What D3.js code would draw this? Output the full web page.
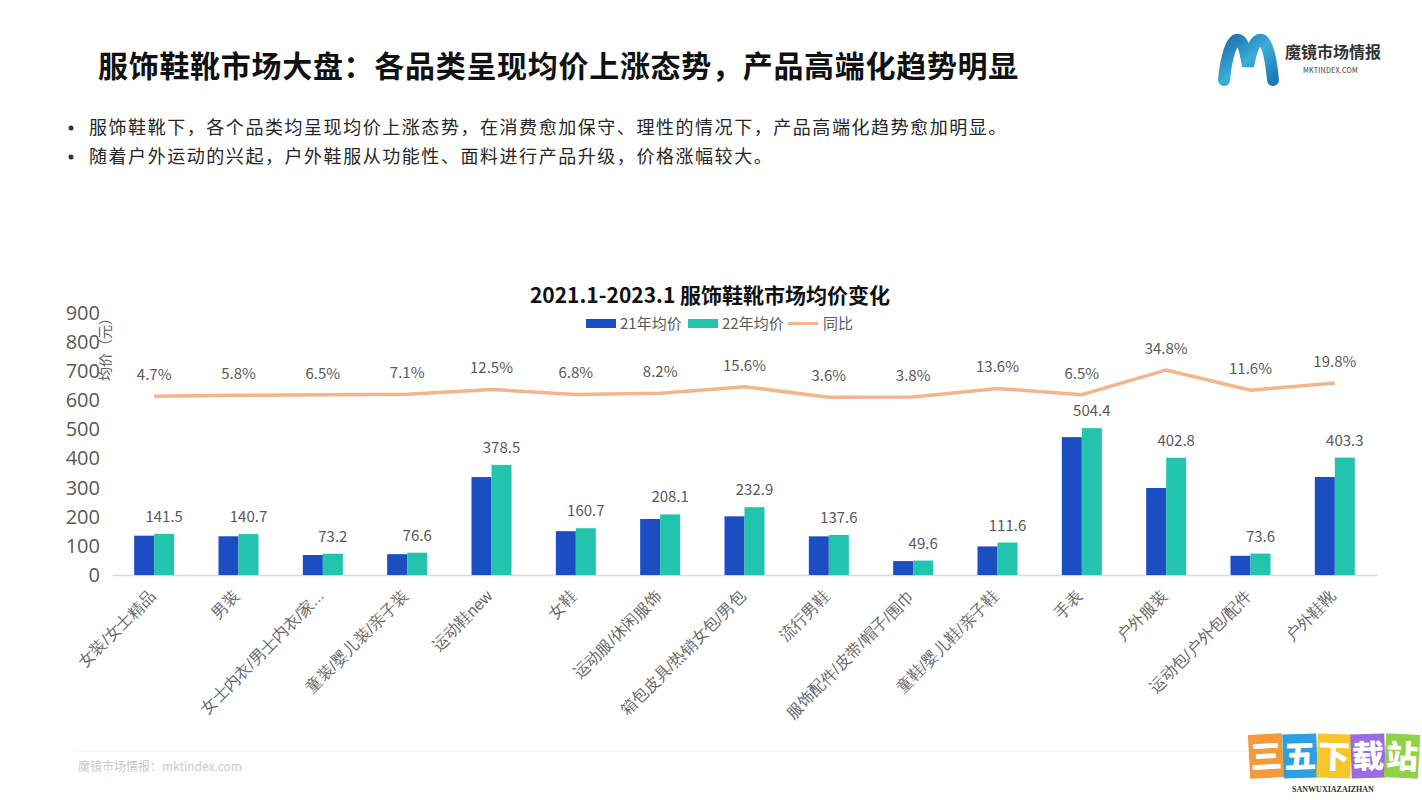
<!DOCTYPE html>
<html><head><meta charset="utf-8">
<script src="https://cdn.jsdelivr.net/npm/d3@7"></script>
<style>
html,body{margin:0;padding:0;background:#fff;}
svg{display:block;font-family:"Noto Sans CJK SC","Open Sans",sans-serif;}
</style></head>
<body>
<svg id="c" width="1422" height="800"></svg>
<script>
const categories = ["女装/女士精品","男装","女士内衣/男士内衣/家...","童装/婴儿装/亲子装","运动鞋new","女鞋","运动服/休闲服饰","箱包皮具/热销女包/男包","流行男鞋","服饰配件/皮带/帽子/围巾","童鞋/婴儿鞋/亲子鞋","手表","户外服装","运动包/户外包/配件","户外鞋靴"];
const price21 = [135.1,133.0,68.7,71.5,336.4,150.5,192.3,201.5,132.8,47.8,98.2,473.6,298.8,66.0,336.6];
const price22 = [141.5,140.7,73.2,76.6,378.5,160.7,208.1,232.9,137.6,49.6,111.6,504.4,402.8,73.6,403.3];
const yoy = [4.7,5.8,6.5,7.1,12.5,6.8,8.2,15.6,3.6,3.8,13.6,6.5,34.8,11.6,19.8];
const yTicks = [0,100,200,300,400,500,600,700,800,900];
const seriesNames = ["21年均价","22年均价","同比"];
const title = "服饰鞋靴市场大盘：各品类呈现均价上涨态势，产品高端化趋势明显";
const bullets = ["服饰鞋靴下，各个品类均呈现均价上涨态势，在消费愈加保守、理性的情况下，产品高端化趋势愈加明显。","随着户外运动的兴起，户外鞋服从功能性、面料进行产品升级，价格涨幅较大。"];
const chartTitle = "2021.1-2023.1 服饰鞋靴市场均价变化";

const C21 = "#1a4ec2", C22 = "#22c4ae", CL = "#f3b58c", GRAY = "#595959";
const svg = d3.select("#c");

// header
svg.append("text").attr("x",98).attr("y",77).attr("font-size",30).attr("font-weight",700)
  .attr("letter-spacing",0.7).attr("fill","#111").text(title);
bullets.forEach((b,i)=>{
  svg.append("circle").attr("cx",71).attr("cy",128+i*29).attr("r",2.5).attr("fill","#333");
  svg.append("text").attr("x",89).attr("y",134+i*29).attr("font-size",18).attr("letter-spacing",1.55)
    .attr("fill","#262626").text(b);
});

// logo
const defs = svg.append("defs");
const g1 = defs.append("linearGradient").attr("id","lg").attr("x1","0").attr("x2","1").attr("y1","0").attr("y2","1");
g1.append("stop").attr("offset","0").attr("stop-color","#1f6fae");
g1.append("stop").attr("offset","0.5").attr("stop-color","#3aaed8");
g1.append("stop").attr("offset","1").attr("stop-color","#1c7bb5");
svg.append("path").attr("d","M1224,80 C1226,60 1230,44 1236,40 C1244,38 1246,56 1248,66 C1250,56 1254,38 1262,40 C1268,44 1271,60 1273,80")
  .attr("fill","none").attr("stroke","url(#lg)").attr("stroke-width",12).attr("stroke-linecap","round");
svg.append("text").attr("x",1285).attr("y",58).attr("font-size",16).attr("font-weight",700).attr("fill","#333").text("魔镜市场情报");
svg.append("text").attr("x",1303).attr("y",73).attr("font-size",7).attr("fill","#333").attr("letter-spacing",0.3).text("MKTINDEX.COM");

// chart
const x = d3.scaleBand().domain(categories).range([112,1377]);
const xs = d3.scaleBand().domain(["21","22"]).range([0,40]);
const y = d3.scaleLinear().domain([0,900]).range([575,313]);
const y2 = d3.scaleLinear().domain([-200,100]).range([575,313]);
const cx = c => x(c) + x.bandwidth()/2;

svg.append("text").attr("x",710).attr("y",303).attr("text-anchor","middle").attr("font-size",21)
  .attr("font-weight",700).attr("fill","#111").text(chartTitle);

// legend
const lg = svg.append("g").attr("font-size",15).attr("fill",GRAY);
lg.append("rect").attr("x",586).attr("y",319).attr("width",30).attr("height",9).attr("fill",C21);
lg.append("text").attr("x",620).attr("y",329).text(seriesNames[0]);
lg.append("rect").attr("x",688).attr("y",319).attr("width",30).attr("height",9).attr("fill",C22);
lg.append("text").attr("x",722).attr("y",329).text(seriesNames[1]);
lg.append("line").attr("x1",788).attr("x2",818).attr("y1",323.5).attr("y2",323.5).attr("stroke",CL).attr("stroke-width",3);
lg.append("text").attr("x",823).attr("y",329).text(seriesNames[2]);

// y axis
const ya = svg.append("g").attr("transform","translate(100,0)")
  .call(d3.axisLeft(y).tickValues(yTicks).tickSize(0).tickPadding(0));
ya.select(".domain").remove();
ya.selectAll("text").attr("font-size",20).attr("fill",GRAY).attr("font-family","'Open Sans','Noto Sans CJK SC',sans-serif");
svg.append("text").attr("transform","translate(110,346) rotate(-90)").attr("text-anchor","middle")
  .attr("font-size",14).attr("fill",GRAY).text("均价（元）");

// x axis
const xa = svg.append("g").attr("transform","translate(0,575)").call(d3.axisBottom(x).tickSize(0).tickPadding(0));
xa.select(".domain").attr("stroke","#d9d9d9").attr("stroke-width",1.5);
xa.selectAll("text").attr("font-size",16).attr("fill","#666").attr("text-anchor","end")
  .attr("transform","translate(-2,18) rotate(-45)").attr("dy","0.35em");

// bars
const bars = svg.append("g");
categories.forEach((c,i)=>{
  bars.append("rect").attr("x",x(c)+x.bandwidth()/2-20+xs("21")).attr("width",xs.bandwidth())
    .attr("y",y(price21[i])).attr("height",y(0)-y(price21[i])).attr("fill",C21);
  bars.append("rect").attr("x",x(c)+x.bandwidth()/2-20+xs("22")).attr("width",xs.bandwidth())
    .attr("y",y(price22[i])).attr("height",y(0)-y(price22[i])).attr("fill",C22);
  bars.append("text").attr("x",x(c)+x.bandwidth()/2-20+xs("22")+xs.bandwidth()/2).attr("y",y(price22[i])-12)
    .attr("text-anchor","middle").attr("font-size",15).attr("fill",GRAY).text(price22[i].toFixed(1));
});

// line
const line = d3.line().x((d,i)=>cx(categories[i])).y(d=>y2(d));
svg.append("path").datum(yoy).attr("d",line).attr("fill","none").attr("stroke",CL).attr("stroke-width",3.5);
svg.append("g").selectAll("text").data(yoy).join("text")
  .attr("x",(d,i)=>cx(categories[i])).attr("y",d=>y2(d)-16)
  .attr("text-anchor","middle").attr("font-size",15).attr("fill",GRAY).text(d=>d.toFixed(1)+"%");

// footer
svg.append("line").attr("x1",75).attr("x2",1370).attr("y1",751).attr("y2",751).attr("stroke","#f2f2f2");
svg.append("text").attr("x",78).attr("y",771).attr("font-size",12).attr("fill","#c8c8c8").text("魔镜市场情报：mktindex.com");

// watermark
const wm = [["三","#f39a3c",-3],["五","#2e9fe0",-2],["下","#f6c62a",2],["载","#9b6ce0",-2],["站","#8fd14a",3]];
wm.forEach((w,i)=>{
  const gx = 1266+i*34, gy = 756;
  const g = svg.append("g").attr("transform",`translate(${gx},${gy}) rotate(${w[2]})`);
  g.append("rect").attr("x",-17).attr("y",-22).attr("width",34).attr("height",44).attr("fill",w[1]);
  g.append("text").attr("y",12).attr("text-anchor","middle").attr("font-size",32).attr("font-weight",900)
    .attr("fill","#fff").text(w[0]);
});
svg.append("text").attr("x",1333).attr("y",792).attr("text-anchor","middle").attr("font-size",8)
  .attr("font-family","'Liberation Serif',serif").attr("font-weight",700).attr("fill","#333").text("SANWUXIAZAIZHAN");
</script>
</body></html>
